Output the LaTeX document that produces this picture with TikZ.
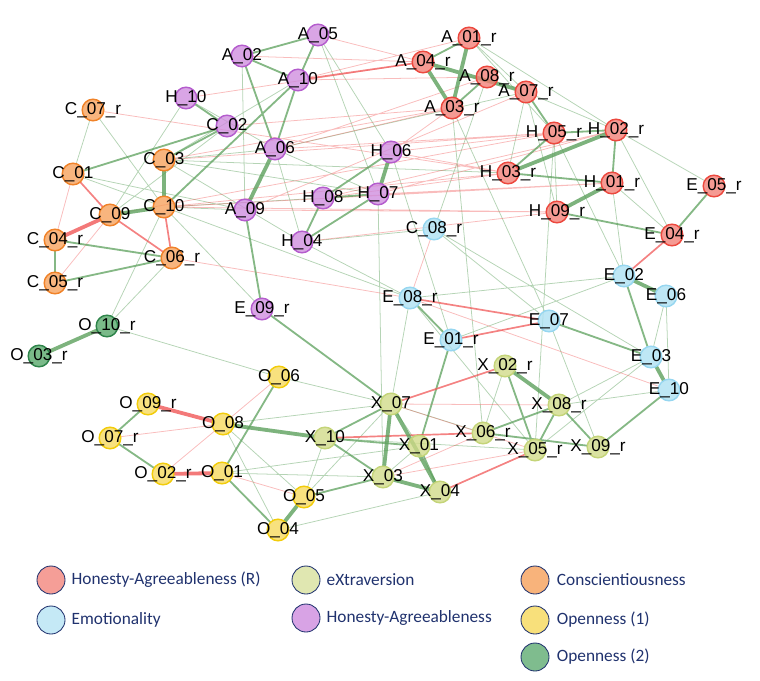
\documentclass[tikz,border=0pt]{standalone}
\usepackage{fontspec}
\setmainfont{Liberation Sans}
\newfontfamily\keyfont{Carlito}
\usepackage{xcolor}
\usetikzlibrary{positioning,backgrounds}

\definecolor{posc}{RGB}{92,160,92}
\definecolor{negc}{RGB}{240,88,88}
\definecolor{hrfill}{RGB}{242,126,116}
\definecolor{hrline}{RGB}{236,72,62}
\definecolor{hafill}{RGB}{206,140,222}
\definecolor{haline}{RGB}{180,92,205}
\definecolor{emfill}{RGB}{172,224,242}
\definecolor{emline}{RGB}{150,214,240}
\definecolor{exfill}{RGB}{208,218,135}
\definecolor{exline}{RGB}{196,212,120}
\definecolor{cofill}{RGB}{246,160,90}
\definecolor{coline}{RGB}{240,130,40}
\definecolor{oafill}{RGB}{246,216,90}
\definecolor{oaline}{RGB}{242,204,10}
\definecolor{obfill}{RGB}{84,166,104}
\definecolor{obline}{RGB}{46,132,74}
\definecolor{keynavy}{RGB}{32,50,110}

\tikzset{
  dot/.style={circle, minimum size=0.54cm, inner sep=0pt, outer sep=0pt, line width=1pt, fill opacity=0.78},
  hrdot/.style={dot, draw=hrline, fill=hrfill, label={center:#1}},
  hadot/.style={dot, draw=haline, fill=hafill, label={center:#1}},
  emdot/.style={dot, draw=emline, fill=emfill, label={center:#1}},
  exdot/.style={dot, draw=exline, fill=exfill, label={center:#1}},
  codot/.style={dot, draw=coline, fill=cofill, label={center:#1}},
  oadot/.style={dot, draw=oaline, fill=oafill, label={center:#1}},
  obdot/.style={dot, draw=obline, fill=obfill, label={center:#1}},
  posthin/.style={draw=posc, line width=0.55pt, draw opacity=0.45},
  posmid/.style={draw=posc, line width=1.3pt, draw opacity=0.75},
  posthick/.style={draw=posc, line width=2.7pt, draw opacity=0.8},
  negthin/.style={draw=negc, line width=0.55pt, draw opacity=0.4},
  negmid/.style={draw=negc, line width=1.2pt, draw opacity=0.75},
  negthick/.style={draw=negc, line width=2.7pt, draw opacity=0.8},
  keydot/.style={circle, minimum size=0.7cm, inner sep=0pt, draw=keynavy, line width=0.6pt},
  keytext/.style={font=\keyfont\fontsize{12.3}{14}\selectfont, text=keynavy, inner sep=0pt}
}

\begin{document}
\begin{tikzpicture}[x=0.025cm, y=-0.025cm, font=\fontsize{12.2}{12}\selectfont]
  \useasboundingbox (0,0) rectangle (760,681);

  % Honesty-Agreeableness (R)
  \node[hrdot=A\_01\_r] (A01r) at (469,38) {};
  \node[hrdot=A\_04\_r] (A04r) at (423,62) {};
  \node[hrdot=A\_08\_r] (A08r) at (487,77) {};
  \node[hrdot=A\_07\_r] (A07r) at (526,92) {};
  \node[hrdot=A\_03\_r] (A03r) at (452,108) {};
  \node[hrdot=H\_05\_r] (H05r) at (554,133) {};
  \node[hrdot=H\_02\_r] (H02r) at (616,130) {};
  \node[hrdot=H\_03\_r] (H03r) at (508,173) {};
  \node[hrdot=H\_01\_r] (H01r) at (612,183) {};
  \node[hrdot=H\_09\_r] (H09r) at (557,212) {};
  \node[hrdot=E\_05\_r] (E05r) at (714,186) {};
  \node[hrdot=E\_04\_r] (E04r) at (672,235) {};

  % Honesty-Agreeableness
  \node[hadot=A\_05] (A05) at (318,35) {};
  \node[hadot=A\_02] (A02) at (242,56) {};
  \node[hadot=A\_10] (A10) at (298,80) {};
  \node[hadot=H\_10] (H10) at (186,98) {};
  \node[hadot=C\_02] (C02) at (227,126) {};
  \node[hadot=A\_06] (A06) at (275,149) {};
  \node[hadot=H\_06] (H06) at (391,152) {};
  \node[hadot=H\_07] (H07) at (378,194) {};
  \node[hadot=H\_08] (H08) at (323,198) {};
  \node[hadot=A\_09] (A09) at (245,210) {};
  \node[hadot=H\_04] (H04) at (302,242) {};
  \node[hadot=E\_09\_r] (E09r) at (262,309) {};

  % Conscientiousness
  \node[codot=C\_07\_r] (C07r) at (93,110) {};
  \node[codot=C\_01] (C01) at (73,174) {};
  \node[codot=C\_03] (C03) at (164,160) {};
  \node[codot=C\_10] (C10) at (164,207) {};
  \node[codot=C\_09] (C09) at (110,215) {};
  \node[codot=C\_04\_r] (C04r) at (55,240) {};
  \node[codot=C\_06\_r] (C06r) at (172,258) {};
  \node[codot=C\_05\_r] (C05r) at (55,283) {};

  % Emotionality
  \node[emdot=C\_08\_r] (C08r) at (434,229) {};
  \node[emdot=E\_08\_r] (E08r) at (410,298) {};
  \node[emdot=E\_01\_r] (E01r) at (451,340) {};
  \node[emdot=E\_07] (E07) at (549,321) {};
  \node[emdot=E\_02] (E02) at (624,276) {};
  \node[emdot=E\_06] (E06) at (666,296) {};
  \node[emdot=E\_03] (E03) at (651,357) {};
  \node[emdot=E\_10] (E10) at (669,390) {};

  % Openness (2)
  \node[obdot=O\_10\_r] (O10r) at (107,326) {};
  \node[obdot=O\_03\_r] (O03r) at (39,356) {};

  % eXtraversion
  \node[exdot=X\_02\_r] (X02r) at (505,366) {};
  \node[exdot=X\_07] (X07) at (391,404) {};
  \node[exdot=X\_08\_r] (X08r) at (559,405) {};
  \node[exdot=X\_10] (X10) at (325,438) {};
  \node[exdot=X\_06\_r] (X06r) at (483,433) {};
  \node[exdot=X\_01] (X01) at (419,446) {};
  \node[exdot=X\_05\_r] (X05r) at (535,450) {};
  \node[exdot=X\_09\_r] (X09r) at (598,447) {};
  \node[exdot=X\_03] (X03) at (383,477) {};
  \node[exdot=X\_04] (X04) at (440,492) {};

  % Openness (1)
  \node[oadot=O\_06] (O06) at (279,377) {};
  \node[oadot=O\_09\_r] (O09r) at (148,404) {};
  \node[oadot=O\_08] (O08) at (223,424) {};
  \node[oadot=O\_07\_r] (O07r) at (110,438) {};
  \node[oadot=O\_02\_r] (O02r) at (163,474) {};
  \node[oadot=O\_01] (O01) at (222,473) {};
  \node[oadot=O\_05] (O05) at (304,497) {};
  \node[oadot=O\_04] (O04) at (278,530) {};

  \begin{scope}[on background layer]
    % faint links
    \path[posthin] (A01r) -- (A07r) (A01r) -- (H05r) (A07r) -- (H03r) (A07r) -- (H09r)
      (A07r) -- (H02r) (A03r) -- (X06r) (A08r) -- (C08r) (H05r) -- (X05r) (H05r) -- (H09r)
      (H02r) -- (E05r) (H01r) -- (E04r) (H02r) -- (E04r) (C08r) -- (H04) (C08r) -- (E03)
      (C08r) -- (E07) (E08r) -- (X07) (E08r) -- (X05r) (E08r) -- (E02) (E01r) -- (E02)
      (E07) -- (X09r) (E03) -- (X08r) (E03) -- (X05r) (E10) -- (X08r) (E06) -- (E03)
      (E06) -- (E10) (X02r) -- (X06r) (X07) -- (X01) (X07) -- (X06r) (X07) -- (O05)
      (X07) -- (O06) (H07) -- (X03) (X10) -- (O05) (X10) -- (X05r) (X03) -- (X01)
      (X04) -- (O04) (O08) -- (O04) (O08) -- (O05) (O08) -- (X07) (O01) -- (X03)
      (O01) -- (X01) (O06) -- (O10r) (C07r) -- (C01) (C07r) -- (C10) (C01) -- (C10)
      (C03) -- (A06) (C03) -- (A10) (C10) -- (A09) (C10) -- (H08) (C10) -- (O10r)
      (C06r) -- (O10r) (C09) -- (C02) (C09) -- (H10) (H10) -- (A06) (A02) -- (A09)
      (A05) -- (H06) (A05) -- (H07) (A06) -- (H04) (A06) -- (H07) (H04) -- (E08r)
      (H06) -- (E01r) (A03r) -- (E07) (H05r) -- (E02) (A07r) -- (A06) (H03r) -- (C03)
      (E09r) -- (C10) (C01) -- (A09) (C03) -- (H04) (H01r) -- (E02) (A01r) -- (H02r)
      (C03) -- (H07) (C10) -- (E08r);
    \path[negthin] (X07) -- (X08r) (X07) -- (X05r) (X03) -- (X06r) (X03) -- (X05r)
      (C08r) -- (E08r) (E08r) -- (E10) (C06r) -- (E08r) (O07r) -- (O08) (O02r) -- (O08)
      (O01) -- (O05) (O08) -- (O06) (C01) -- (C04r) (C05r) -- (C09) (C07r) -- (H03r)
      (A04r) -- (A02) (A03r) -- (A06) (A03r) -- (H06) (A08r) -- (A06) (A07r) -- (A09)
      (H05r) -- (H06) (H03r) -- (H08) (H02r) -- (H07) (H09r) -- (H04) (H03r) -- (C10)
      (H05r) -- (C09) (H01r) -- (H07) (H09r) -- (C10) (A01r) -- (A10) (A04r) -- (H10)
      (A03r) -- (C03) (A04r) -- (A05) (A08r) -- (A10) (H03r) -- (H06) (A03r) -- (C02)
      (H05r) -- (A06) (H02r) -- (H08) (C10) -- (H01r) (C03) -- (H05r) (A09) -- (H09r)
      (H08) -- (H01r);
    % medium links
    \path[posmid] (A01r) -- (A04r) (A03r) -- (A08r) (A02) -- (A05) (A02) -- (A10)
      (A02) -- (A06) (A05) -- (A10) (A10) -- (A06) (A09) -- (E09r) (E09r) -- (X07)
      (H10) -- (C02) (C02) -- (C03) (C04r) -- (C06r) (C04r) -- (C05r) (C05r) -- (C06r)
      (H07) -- (H08) (H08) -- (H04) (H04) -- (H07) (H06) -- (H08) (H05r) -- (H02r)
      (H05r) -- (H03r) (H02r) -- (H01r) (H03r) -- (H01r) (H09r) -- (E04r) (E04r) -- (E05r)
      (A07r) -- (H05r) (E08r) -- (E01r) (E07) -- (E03) (E02) -- (E03) (X02r) -- (X05r)
      (X08r) -- (X05r) (X08r) -- (X09r) (X08r) -- (X06r) (X06r) -- (X09r) (X09r) -- (E10)
      (X07) -- (X10) (X10) -- (X03) (X10) -- (X01) (X01) -- (X04) (X01) -- (E01r)
      (O09r) -- (O07r) (O07r) -- (O02r) (O01) -- (O04) (O05) -- (X03) (O06) -- (O01)
      (C01) -- (C02) (C10) -- (A10);
    \path[negmid] (A10) -- (A04r) (C01) -- (C09) (C09) -- (C06r) (C10) -- (C06r)
      (E04r) -- (E02) (E08r) -- (E07) (E01r) -- (E07) (X02r) -- (X07) (X04) -- (X05r)
      (X10) -- (X06r);
    % strong links
    \path[posthick] (A01r) -- (A03r) (A04r) -- (A03r) (A04r) -- (A07r) (H03r) -- (H02r)
      (H01r) -- (H09r) (A06) -- (A09) (C03) -- (C10) (C10) -- (C09) (H06) -- (H07)
      (E02) -- (E06) (E03) -- (E10) (O10r) -- (O03r) (X07) -- (X03) (X03) -- (X04)
      (X07) -- (X04) (X10) -- (O08) (O04) -- (O05) (X02r) -- (X08r);
    \path[negthick] (C09) -- (C04r) (O09r) -- (O08) (O02r) -- (O01);
  \end{scope}

  % legend
  \node[keydot, fill=hrfill!75] (khr) at (51,580) {};
  \node[keytext, right=0.15cm of khr] (thr) {Honesty-Agreeableness (R)};
  \node[keydot, fill=emfill!70] (kem) at (51,620) {};
  \node[keytext, right=0.15cm of kem] (tem) {Emotionality};
  \node[keydot, fill=exfill!65] (kex) at (306,580) {};
  \node[keytext, right=0.15cm of kex] (tex) {eXtraversion};
  \node[keydot, fill=hafill!80] (kha) at (306,618) {};
  \node[keytext, right=0.15cm of kha] (tha) {Honesty-Agreeableness};
  \node[keydot, fill=cofill!80] (kco) at (535,580) {};
  \node[keytext, right=0.18cm of kco] (tco) {Conscientiousness};
  \node[keydot, fill=oafill!80] (koa) at (535,620) {};
  \node[keytext, right=0.18cm of koa] (toa) {Openness (1)};
  \node[keydot, fill=obfill!75] (kob) at (535,657) {};
  \node[keytext, right=0.18cm of kob] (tob) {Openness (2)};
\end{tikzpicture}
\end{document}
